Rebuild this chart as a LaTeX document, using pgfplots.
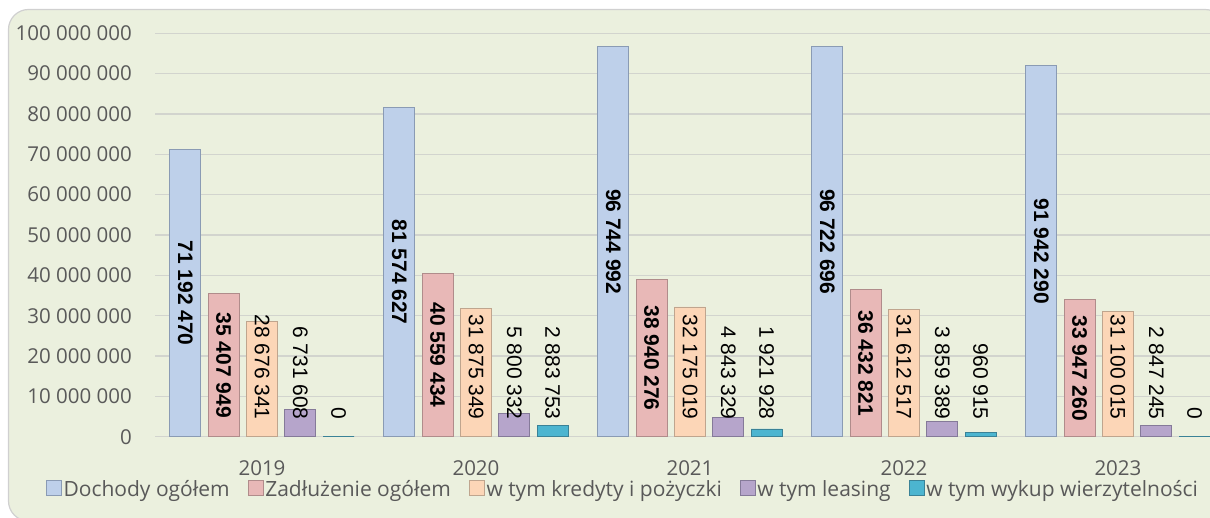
\documentclass[border=0pt]{standalone}
\usepackage{fontspec}
\setmainfont{Open Sans}
\newfontfamily\lab{Liberation Sans}
\usepackage{pgfplots}
\usepackage{pgfplotstable}
\pgfplotsset{compat=1.18}
\definecolor{bg}{HTML}{EBF0DE}
\definecolor{brd}{HTML}{D0D0D0}
\definecolor{grd}{HTML}{D2D4CE}
\definecolor{txt}{HTML}{595959}
\definecolor{aF}{HTML}{BED0EA}\definecolor{aD}{HTML}{8A9BB4}
\definecolor{bF}{HTML}{E8B8B7}\definecolor{bD}{HTML}{B08C8B}
\definecolor{cF}{HTML}{FCD6B7}\definecolor{cD}{HTML}{BFA58E}
\definecolor{dF}{HTML}{B6A5CB}\definecolor{dD}{HTML}{857A99}
\definecolor{eF}{HTML}{4CB5D0}\definecolor{eD}{HTML}{3A8297}
\pgfplotstableread[col sep=comma]{
x,doch,dochL,zad,zadL,kre,kreL,lea,leaL,wyk,wykL
0,71192470,71 192 470,35407949,35 407 949,28676341,28 676 341,6731608,6 731 608,0,0
1,81574627,81 574 627,40559434,40 559 434,31875349,31 875 349,5800332,5 800 332,2883753,2 883 753
2,96744992,96 744 992,38940276,38 940 276,32175019,32 175 019,4843329,4 843 329,1921928,1 921 928
3,96722696,96 722 696,36432821,36 432 821,31612517,31 612 517,3859389,3 859 389,960915,960 915
4,91942290,91 942 290,33947260,33 947 260,31100015,31 100 015,2847245,2 847 245,0,0
}\data
\pgfplotsset{
  clab/.style={nodes near coords, point meta=explicit symbolic,
    visualization depends on={y \as \rawy},
    nodes near coords style={font=\lab\bfseries\fontsize{21}{24}\selectfont, text=black, inner sep=0pt,
      shift={(axis direction cs:0,-\rawy/2)}, rotate=-90, anchor=center}},
  blab/.style={nodes near coords, point meta=explicit symbolic,
    visualization depends on={y \as \rawy},
    nodes near coords style={font=\lab\fontsize{21}{24}\selectfont, text=black, inner sep=0pt,
      shift={(axis direction cs:0,-\rawy)}, yshift=16.7pt, rotate=-90, anchor=east}},
}
\begin{document}
\begin{tikzpicture}
\path[use as bounding box] (0pt,0pt) rectangle (1210pt,517pt);
\draw[fill=bg, draw=brd, line width=1.2pt, rounded corners=20pt] (8.5pt,-4pt) rectangle (1225pt,507.5pt);
\begin{axis}[
  at={(155pt,80.3pt)}, anchor=south west,
  scale only axis, width=1070pt, height=403.4pt,
  xmin=-0.5, xmax=4.5, ymin=0, ymax=100000000,
  ybar=7.3pt, bar width=31pt,
  xtick={0,1,2,3,4}, xticklabels={2019,2020,2021,2022,2023},
  ytick={0,10000000,20000000,30000000,40000000,50000000,60000000,70000000,80000000,90000000,100000000},
  yticklabels={0,10 000 000,20 000 000,30 000 000,40 000 000,50 000 000,60 000 000,70 000 000,80 000 000,90 000 000,100 000 000},
  scaled y ticks=false,
  ymajorgrids, grid style={grd, line width=1.3pt},
  axis line style={draw=none}, major tick length=0pt,
  tick label style={font=\fontsize{20.5}{24}\selectfont, text=txt},
  yticklabel style={anchor=east, inner sep=0pt, xshift=-23pt},
  xticklabel style={anchor=center, inner sep=0pt, yshift=-31pt},
  legend columns=5,
  legend style={at={(axis description cs:0.4374,-0.1297)}, anchor=center, draw=none, fill=none,
    font=\fontsize{21}{24}\selectfont, text=txt, inner sep=0pt,
    nodes={inner sep=1.5pt},
    /tikz/every even column/.append style={column sep=17pt}},
  legend image code/.code={\draw[#1, line width=0.6pt] (0pt,-6pt) rectangle (15pt,9pt);},
]
\addplot[draw=aD, line width=0.8pt, fill=aF, clab] table[x=x, y=doch, meta=dochL] {\data};
\addplot[draw=bD, line width=0.8pt, fill=bF, clab] table[x=x, y=zad, meta=zadL] {\data};
\addplot[draw=cD, line width=0.8pt, fill=cF, blab] table[x=x, y=kre, meta=kreL] {\data};
\addplot[draw=dD, line width=0.8pt, fill=dF, blab] table[x=x, y=lea, meta=leaL] {\data};
\addplot[draw=eD, line width=0.8pt, fill=eF, blab] table[x=x, y=wyk, meta=wykL] {\data};
\legend{Dochody ogółem,Zadłużenie ogółem,w tym kredyty i pożyczki,w tym leasing,w tym wykup wierzytelności}
\end{axis}
\end{tikzpicture}
\end{document}
